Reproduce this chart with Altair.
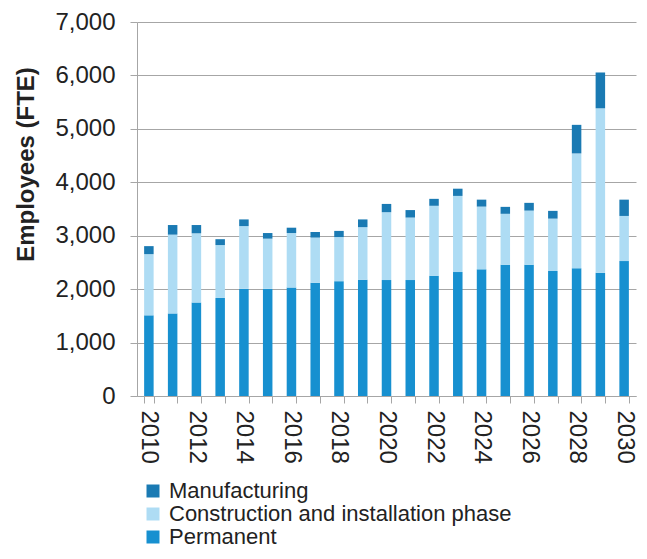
import altair as alt
import pandas as pd

years = list(range(2010, 2031))
permanent = [1510, 1545, 1750, 1835, 2005, 2005, 2030, 2120, 2150, 2175, 2170,
             2170, 2250, 2320, 2370, 2455, 2455, 2340, 2390, 2305, 2525]
construction = [1145, 1475, 1295, 990, 1175, 940, 1020, 845, 825, 985, 1270,
                1170, 1310, 1425, 1175, 955, 1015, 980, 2150, 3080, 845]
manufacturing = [150, 180, 155, 110, 125, 105, 100, 105, 115, 145, 155,
                 140, 130, 135, 130, 130, 145, 145, 535, 670, 305]

series = ["Manufacturing", "Construction and installation phase", "Permanent"]
colors = ["#1a7ab3", "#aedcf4", "#1790d0"]
stack_order = {"Permanent": 0, "Construction and installation phase": 1, "Manufacturing": 2}

rows = []
for name, vals in [("Permanent", permanent),
                   ("Construction and installation phase", construction),
                   ("Manufacturing", manufacturing)]:
    for y, v in zip(years, vals):
        rows.append({"year": y, "series": name, "value": v, "ord": stack_order[name]})
df = pd.DataFrame(rows)

FONT = "Liberation Sans"
GRID = "#a6a6a6"
TEXT = "#222222"

chart = alt.Chart(df).mark_bar().encode(
    x=alt.X("year:O",
            scale=alt.Scale(paddingInner=0.6, paddingOuter=0.3),
            axis=alt.Axis(title=None, tickBand="extent", labelAngle=90,
                          labelExpr="datum.value % 2 === 0 ? datum.label : ''",
                          labelFontSize=24, labelFont=FONT, labelColor=TEXT,
                          labelPadding=7, tickSize=7, tickColor=GRID,
                          domainColor=GRID, grid=False, labelOverlap=False,
                          labelFlush=False)),
    y=alt.Y("value:Q", stack="zero",
            scale=alt.Scale(domain=[0, 7000], nice=False),
            axis=alt.Axis(title="Employees (FTE)", values=list(range(0, 7001, 1000)),
                          format=",d", labelFontSize=24, labelFont=FONT,
                          labelColor=TEXT, labelPadding=15, tickSize=7,
                          tickColor=GRID, domainColor=GRID, gridColor=GRID,
                          titleFont=FONT, titleFontSize=24, titleFontWeight="bold",
                          titleColor=TEXT, titleX=-104, titleY=142,
                          titleAngle=-90, titleAlign="center",
                          titleBaseline="alphabetic")),
    color=alt.Color("series:N",
                    scale=alt.Scale(domain=series, range=colors),
                    legend=alt.Legend(title=None, orient="none", legendX=5,
                                      legendY=458, symbolType="square",
                                      symbolSize=169, symbolStrokeWidth=0,
                                      labelFontSize=22, labelFont=FONT,
                                      labelColor=TEXT, rowPadding=1,
                                      labelOffset=5, padding=0,
                                      labelLimit=600)),
    order=alt.Order("ord:Q"),
).properties(
    width=499,
    height=374,
    autosize=alt.AutoSizeParams(type="none"),
    padding={"left": 129, "top": 14, "right": 3, "bottom": 155},
).configure_view(stroke=None)

chart.save("out.html", embed_options={"renderer": "svg", "actions": False})
